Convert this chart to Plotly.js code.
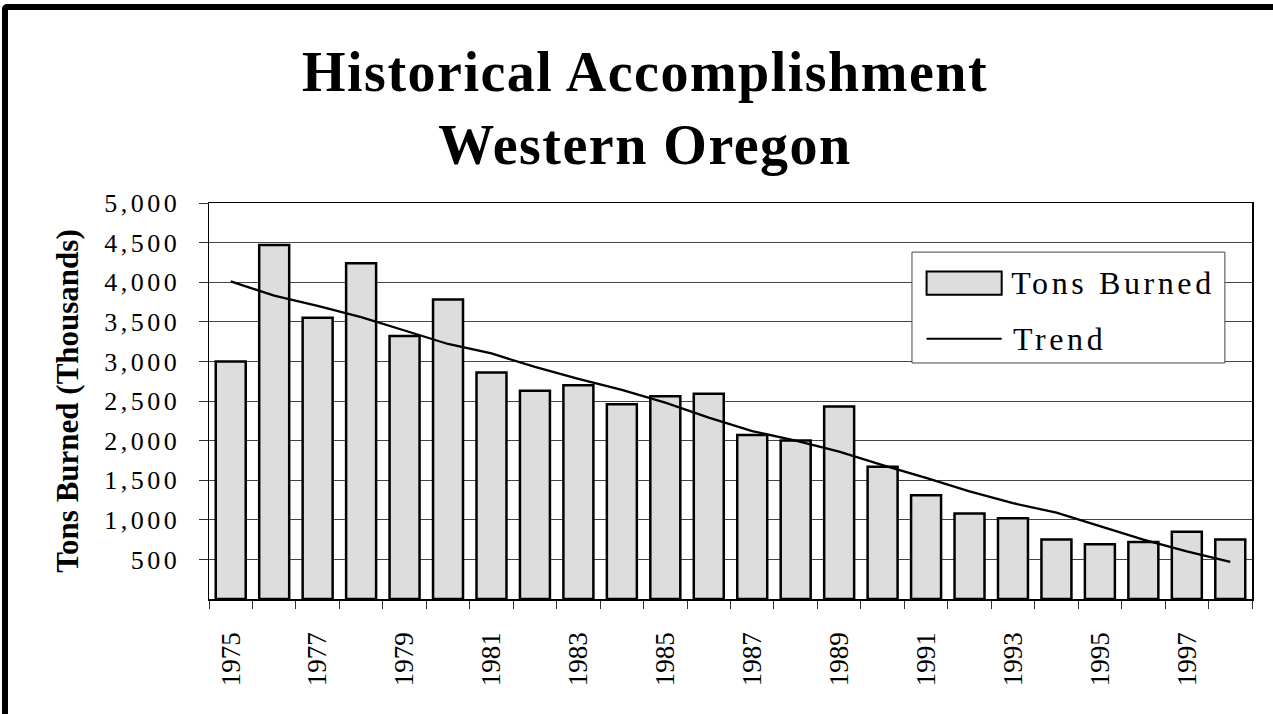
<!DOCTYPE html>
<html>
<head>
<meta charset="utf-8">
<script src="https://cdn.plot.ly/plotly-3.0.1.min.js"></script>
<style>
  html, body { margin: 0; padding: 0; background: #fff; }
  #wrap { position: relative; width: 1273px; height: 714px; overflow: hidden; }
  #chart { position: absolute; left: 0; top: 0; width: 1273px; height: 714px; }
  #frameTop { position: absolute; left: 3px; top: 4px; width: 1270px; height: 6px; background: #000; z-index: 5; border-top-left-radius: 4px; }
  #frameLeft { position: absolute; left: 2px; top: 5px; width: 6px; height: 709px; background: #000; z-index: 5; border-top-left-radius: 4px; }
  #chart .ytick text { letter-spacing: 3.5px; }
  #chart .gtitle { letter-spacing: 1.5px; }
  #chart .annotation-text { letter-spacing: 3.6px; }
</style>
</head>
<body>
<div id="wrap">
  <div id="chart"></div>
  <div id="frameTop"></div>
  <div id="frameLeft"></div>
</div>
<script>
// ---- data ----
const years = [1975, 1976, 1977, 1978, 1979, 1980, 1981, 1982, 1983, 1984, 1985, 1986,
               1987, 1988, 1989, 1990, 1991, 1992, 1993, 1994, 1995, 1996, 1997, 1998];
const tonsBurned = [3000, 4470, 3550, 4240, 3320, 3780, 2860, 2630, 2700, 2460, 2560, 2590,
                    2070, 2000, 2430, 1670, 1310, 1080, 1020, 750, 690, 720, 850, 750];
const trend = [4010, 3830, 3700, 3560, 3390, 3220, 3100, 2930, 2780, 2640, 2480, 2290,
               2120, 2000, 1860, 1690, 1530, 1360, 1210, 1090, 920, 750, 600, 470];
const yTickVals = [500, 1000, 1500, 2000, 2500, 3000, 3500, 4000, 4500, 5000];
const yTickText = ['500', '1,000', '1,500', '2,000', '2,500', '3,000', '3,500', '4,000', '4,500', '5,000'];
const xTickVals = [1975, 1977, 1979, 1981, 1983, 1985, 1987, 1989, 1991, 1993, 1995, 1997];
const xTickText = ['1975', '1977', '1979', '1981', '1983', '1985', '1987', '1989', '1991', '1993', '1995', '1997'];
const seriesNames = ['Tons Burned', 'Trend'];
const titleLines = ['Historical Accomplishment', 'Western Oregon'];
const yTitle = 'Tons Burned (Thousands)';

const serif = '"Liberation Serif", "Times New Roman", Times, serif';

const traces = [
  {
    type: 'bar',
    name: seriesNames[0],
    x: years,
    y: tonsBurned,
    marker: { color: '#dddddd', line: { color: '#000000', width: 2.5 } },
    hoverinfo: 'x+y',
    showlegend: false
  },
  {
    type: 'scatter',
    mode: 'lines',
    name: seriesNames[1],
    x: years,
    y: trend,
    line: { color: '#000000', width: 2.3 },
    hoverinfo: 'x+y',
    showlegend: false
  }
];

const layout = {
  width: 1273,
  height: 714,
  margin: { l: 209, r: 21, t: 203, b: 115, pad: 0 },
  paper_bgcolor: '#ffffff',
  plot_bgcolor: '#ffffff',
  bargap: 0.31,
  font: { family: serif, color: '#000000' },
  title: {
    text: '<b>' + titleLines.join('<br>') + '</b>',
    font: { family: serif, size: 56, color: '#000000' },
    x: 0.5067, xref: 'container', xanchor: 'center',
    y: 0.872, yref: 'container', yanchor: 'top'
  },
  xaxis: {
    type: 'linear',
    range: [1974.5, 1998.5],
    tickmode: 'array',
    tickvals: xTickVals,
    ticktext: xTickText,
    tickangle: -90,
    ticks: '',
    ticklabelstandoff: 21,
    tickfont: { family: serif, size: 27, color: '#000000' },
    showgrid: false,
    zeroline: false,
    showline: true,
    linecolor: '#000000',
    linewidth: 1.5,
    mirror: true,
    minor: { tickmode: 'linear', tick0: 1974.5, dtick: 1, ticks: 'outside', ticklen: 8, tickwidth: 1, tickcolor: '#333333', showgrid: false }
  },
  yaxis: {
    range: [0, 5000],
    tickmode: 'array',
    tickvals: yTickVals,
    ticktext: yTickText,
    ticks: 'outside',
    ticklen: 9,
    tickwidth: 1,
    tickcolor: '#333333',
    ticklabelstandoff: 13,
    tickfont: { family: serif, size: 26, color: '#000000' },
    showgrid: true,
    gridcolor: '#444444',
    gridwidth: 1,
    zeroline: false,
    showline: true,
    linecolor: '#000000',
    linewidth: 1.5,
    mirror: true,
    title: {
      text: '<b>' + yTitle + '</b>',
      font: { family: serif, size: 31, color: '#000000' },
      standoff: 34
    }
  },
  shapes: [
    // legend box
    { type: 'rect', xref: 'paper', yref: 'paper', x0: 0.674, x1: 0.974, y0: 0.596, y1: 0.876,
      fillcolor: '#ffffff', line: { color: '#444444', width: 1 }, layer: 'above' },
    // bar swatch
    { type: 'rect', xref: 'paper', yref: 'paper', x0: 0.688, x1: 0.760, y0: 0.768, y1: 0.827,
      fillcolor: '#dddddd', line: { color: '#000000', width: 2 }, layer: 'above' },
    // line swatch
    { type: 'line', xref: 'paper', yref: 'paper', x0: 0.688, x1: 0.760, y0: 0.657, y1: 0.657,
      line: { color: '#000000', width: 2 }, layer: 'above' }
  ],
  annotations: [
    { xref: 'paper', yref: 'paper', x: 0.786, y: 0.798, xanchor: 'left', yanchor: 'middle',
      text: seriesNames[0], showarrow: false, font: { family: serif, size: 32, color: '#000000' } },
    { xref: 'paper', yref: 'paper', x: 0.778, y: 0.657, xanchor: 'left', yanchor: 'middle',
      text: seriesNames[1], showarrow: false, font: { family: serif, size: 32, color: '#000000' } }
  ]
};

Plotly.newPlot('chart', traces, layout, { displayModeBar: false, staticPlot: true });
</script>
</body>
</html>
